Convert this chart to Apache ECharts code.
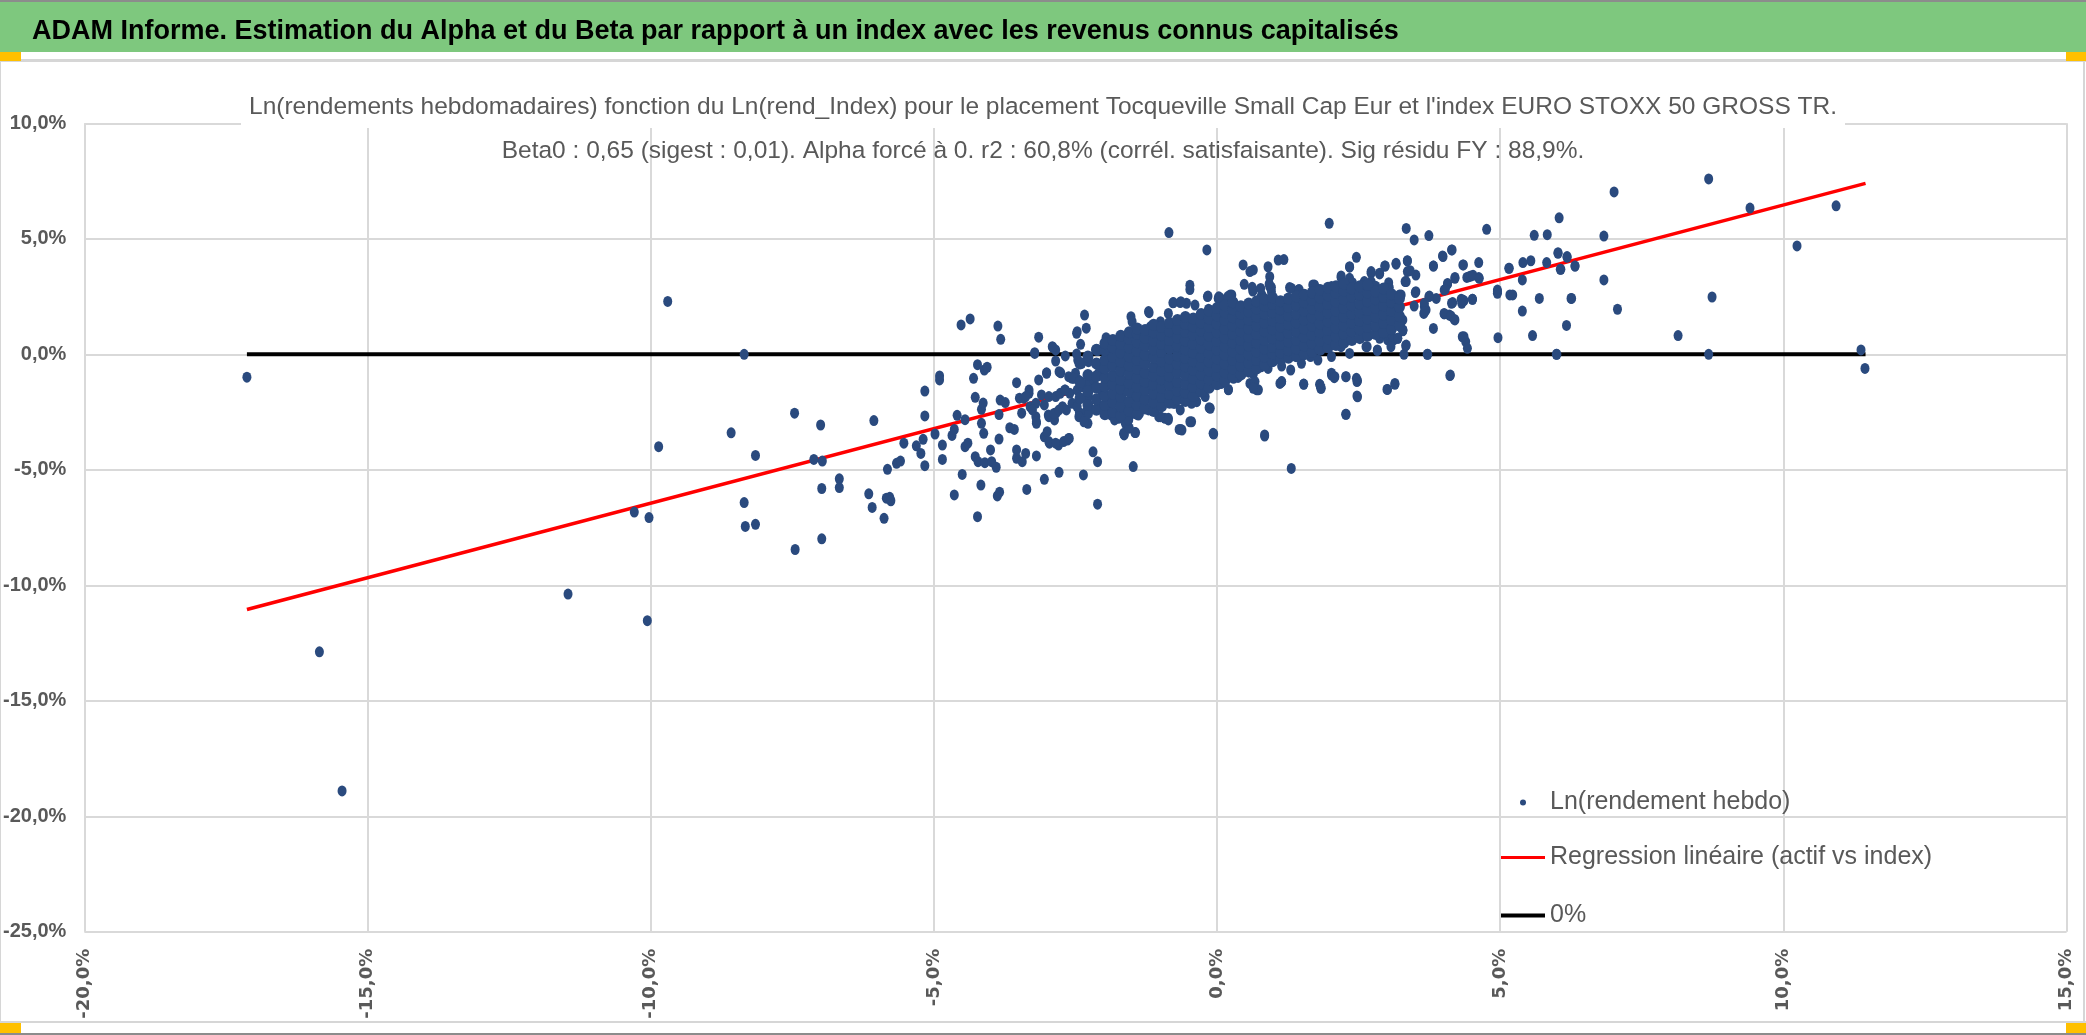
<!DOCTYPE html>
<html>
<head>
<meta charset="utf-8">
<script src="https://cdn.jsdelivr.net/npm/echarts@6/dist/echarts.min.js"></script>
<style>
  html, body { margin: 0; padding: 0; background: #fff; }
  #chart { width: 2086px; height: 1035px; }
</style>
</head>
<body>
<div id="chart"></div>
<script>
// texts
const bannerTitle = 'ADAM Informe. Estimation du Alpha et du Beta par rapport à un index avec les revenus connus capitalisés';
const titleLines = [
  "Ln(rendements hebdomadaires) fonction du Ln(rend_Index) pour le placement Tocqueville Small Cap Eur et l'index EURO STOXX 50 GROSS TR.",
  'Beta0 : 0,65 (sigest : 0,01). Alpha forcé à 0. r2 : 60,8% (corrél. satisfaisante). Sig résidu FY : 88,9%.'
];
const seriesNames = ['Ln(rendement hebdo)', 'Regression linéaire (actif vs index)', '0%'];

// axis ticks (in %)
const xTicks = { min: -20, max: 15, step: 5 };
const yTicks = { min: -25, max: 10, step: 5 };

// weekly log returns, index (x) vs fund (y), in %
const farLeft = [
  [-17.13,-0.99],[-15.85,-12.88],[-15.45,-18.9],[-11.46,-10.38],[-10.06,-11.53],[-10.29,-6.83],[-10.03,-7.07],
  [-9.86,-4.0],[-9.7,2.29],[-8.35,0.0],[-8.58,-3.4],[-8.15,-4.38],[-8.35,-6.42],[-8.33,-7.45],[-8.15,-7.36],
  [-7.46,-2.55],[-7.0,-3.06],[-7.12,-4.55],[-6.97,-4.62],[-6.67,-5.39],[-6.67,-5.77],[-6.98,-5.81],[-6.98,-7.99],
  [-7.45,-8.45],[-6.06,-2.87],[-6.15,-6.04],[-6.09,-6.63],[-5.88,-7.1],[-5.84,-6.23],[-5.78,-6.19],[-5.76,-6.34],
  [-5.82,-4.98],[-5.66,-4.72],[-5.59,-4.62]
];

const leftTail = [
  [-5.53,-3.85],[-5.31,-3.96],[-5.23,-4.29],[-5.19,-3.68],[-5.16,-4.82],[-5.16,-1.59],[-5.16,-2.67],[-4.98,-3.45],
  [-4.9,-0.94],[-4.9,-1.11],[-4.85,-3.93],[-4.85,-4.55],[-4.68,-3.51],[-4.64,-3.25],[-4.59,-2.64],[-4.64,-6.09],
  [-4.52,1.27],[-4.36,1.53],[-4.5,-5.2],[-4.45,-2.83],[-4.45,-4.0],[-4.4,-3.85],[-4.3,-1.04],[-4.27,-1.86],
  [-4.23,-0.45],[-4.16,-2.38],[-4.11,-0.68],[-4.06,-0.56],[-4.13,-2.11],[-4.27,-4.43],[-4.22,-4.65],[-4.16,-2.99],
  [-4.12,-3.42],[-4.23,-7.03],[-4.17,-5.66],[-4.1,-4.69],[-4.0,-4.14],[-3.98,-4.65],[-3.9,-4.89],[-3.88,-6.13],
  [-3.84,-5.97],[-3.87,1.22],[-3.82,0.65],[-3.85,-2.61],[-3.85,-3.67],[-3.83,-1.98],[-3.74,-2.09],[-3.66,-3.18],
  [-3.58,-3.25],[-3.54,-4.5],[-3.54,-4.14],[-3.54,-1.23],[-3.44,-4.65],[-3.38,-4.29],[-3.36,-5.85],[-3.49,-1.9],
  [-3.45,-2.55],[-3.41,-1.9],[-3.32,-1.69],[-3.3,-2.27],[-3.2,-2.7],[-3.19,-2.99],[-3.19,-4.4],[-3.22,0.07],
  [-3.15,0.74],[-3.15,-1.11],[-3.1,-1.76],[-3.05,-2.19],[-3.05,-3.57],[-3.05,-5.41],[-3.01,-0.8],[-3.0,-3.35],
  [-2.98,-2.63],[-2.96,-3.85],[-2.91,0.33],[-2.85,0.19],[-2.85,-0.29],[-2.87,-2.84],[-2.84,-2.53],[-2.8,-3.93],
  [-2.79,-5.11],[-2.76,-0.8],[-2.73,-2.27],[-2.66,-2.41],[-2.64,-3.71],[-2.61,-3.64],[-2.68,-1.55],[-2.6,-1.69],
  [-2.56,-1.04],[-2.48,0.91],[-2.41,0.43],[-2.34,1.7],[-2.31,1.13],[-2.46,-0.25],[-2.39,-0.39],[-2.27,-0.32],
  [-2.5,-0.82],[-2.45,-1.11],[-2.4,-1.33],[-2.43,-2.53],[-2.31,-2.48],[-2.33,-2.84],[-2.28,-2.99],[-2.36,-5.22],
  [-2.19,-4.22],[-2.11,-4.65],[-2.11,-6.49],[-2.11,0.16],[-1.96,0.72],[-2.0,-0.51],[-2.1,-2.27],[-2.05,-1.55],
  [-3.22,0.04],[-2.9,0.3],[-3.01,-0.82],[-3.32,-1.55],[-3.38,-1.83],[-3.2,-2.12],[-3.26,-2.41],[-3.19,-2.92],
  [-2.97,-3.78],[-2.85,-3.85],[-2.71,-3.78],[-2.62,-3.64],[-2.97,-2.7],[-2.88,-2.56],[-2.79,-2.41],[-2.97,-1.83],
  [-2.85,-1.83],[-2.77,-1.69],[-2.69,-1.55],[-2.79,-0.75],[-2.68,-0.07],[-2.62,-0.97],[-2.53,-1.04],[-2.48,0.01],
  [-2.47,0.98],[-2.47,-1.55],[-2.38,-1.4],[-2.27,-1.26],[-2.18,-1.11],[-2.56,-2.12],[-2.47,-2.27],[-2.44,-2.7],
  [-2.35,-2.92],[-2.27,-2.56],[-2.27,-1.83],[-2.1,0.19],[-2.03,-0.46],[-2.09,-0.82],[-2.0,-1.4],[-1.94,-1.83]
];

const clusterEdge = [
  [-1.91,-2.27],[-1.87,-2.63],[-1.83,-2.56],[-1.74,-2.77],[-1.68,-2.27],[-1.56,-2.84],[-1.5,-2.56],[-1.39,-2.63],
  [-1.62,-2.99],[-1.65,-3.42],[-1.44,-3.39],[-1.64,-3.49],[-1.45,-3.39],[-1.64,-3.46],[-1.48,-4.86],[-1.55,-3.2],
  [-1.68,0.69],[-1.71,0.33],[-1.67,0.62],[-1.52,1.63],[-1.5,1.41],[-1.39,0.84],[-1.38,0.91],[-1.21,1.85],
  [-1.2,1.8],[-1.18,1.19],[-1.15,1.01],[-1.33,0.18],[-1.21,-2.41],[-1.09,-2.41],[-1.03,-2.7],[-0.92,-2.77],
  [-0.86,-2.84],[-0.74,-2.12],[-0.65,-2.41],[-0.45,-2.92],[-0.62,-3.28],[-0.64,-3.25],[-0.36,-2.05],[-0.21,-1.83],
  [-0.12,-2.34],[-0.07,-3.42],[-0.45,-2.12],[-0.67,-3.25],[-0.48,-2.92],[-0.06,-3.45],[-0.14,-2.31],[-1.0,-2.7],
  [-1.37,-2.56],[-1.57,-2.84],[-1.81,-2.84],[-1.97,-2.56],[-0.86,-2.77],
  [-0.77,2.24],[-0.65,2.24],[-0.54,2.21],[-0.39,2.13],[-0.48,2.8],[-0.48,2.99],[-0.17,2.5],[-0.16,2.52],
  [0.02,2.42],[0.03,2.49],[0.14,2.35],[0.1,2.28],[0.26,2.57],[0.23,2.57],[-0.86,1.77],[-0.97,0.98],[-1.0,1.41],
  [-0.78,2.23],[-0.64,2.28],[-0.15,1.95],[0.05,2.45],[0.19,2.5],[-0.85,5.27],[-0.18,4.52],
  [0.46,3.87],[0.58,3.58],[0.9,3.79],[0.93,3.36],[0.48,3.03],[0.63,2.74],[0.79,2.57],[0.96,2.71],[1.08,4.08],
  [0.93,2.93],[0.64,3.65],[0.64,2.78],[0.96,2.9],[0.78,2.5],[1.18,4.1],[1.98,5.67],[0.62,2.9],[0.77,2.85],[0.92,3.05],
  [1.28,2.89],[1.43,2.78],[1.72,3.0],[2.02,2.86],[1.31,2.86],[1.69,3.0],[1.75,2.86],[2.02,2.93],[1.45,2.8],[2.2,3.0],
  [2.19,3.33],[2.34,3.77],[2.46,4.2],[2.34,3.29],[2.6,3.15],[2.72,3.51],[2.87,3.48],[2.97,3.82],[3.16,3.9],
  [3.36,4.04],[3.36,3.58],[3.51,3.43],[3.32,3.15],[3.04,2.9],[3.22,2.57],[3.51,2.71],[3.48,2.09],[3.66,2.06],
  [3.16,3.94],[2.96,3.82],[2.87,3.51],[2.72,3.58],[2.34,3.79],[2.19,3.39],[2.72,3.15],[3.03,3.1],[3.41,3.62],
  [3.34,3.15],[2.39,3.1],[2.66,3.0],[2.8,2.95],[3.0,2.85],
  [2.91,0.86],[3.01,0.62],[3.07,0.76],[3.28,1.02],[2.81,1.27],[3.01,1.34],[3.24,1.49],[2.84,0.98],[2.66,0.84],
  [3.19,0.69],[3.1,0.62],[3.07,0.91],[2.87,0.69],[3.28,1.05],[3.28,1.49],
  [2.34,0.04],[2.19,0.33],[2.02,-0.1],[1.78,-0.25],[1.65,-0.1],[1.49,-0.39],[1.3,-0.68],[1.14,-0.51],[0.96,-0.25],
  [0.78,-0.54],[0.64,-0.85],[0.58,-1.26],[0.42,-0.75],[0.29,-1.04],[0.02,-0.94],[-0.1,-1.33],[-0.27,-1.62],
  [-0.39,-1.83],[-0.56,-1.62],[-0.8,-1.98],[-0.77,-2.12],[-0.98,-1.83],[-1.15,-1.98],[-1.33,-1.62],[-1.5,-1.83],
  [-1.68,-1.98],[-1.86,-1.83],
  [0.2,-1.54],[0.67,-1.18],[0.7,-1.54],[0.84,-3.49],[1.11,-1.26],[0.61,-0.68],[0.9,-0.61],[0.37,-1.0],[0.08,-1.26],
  [0.73,-1.54],[0.64,-1.47],[0.2,-1.52],[1.14,-1.18],[1.53,-1.29],[1.81,-1.3],[1.83,-1.47],[1.53,-1.3],[1.82,-1.33],
  [1.84,-1.47],[0.84,-3.54],[1.31,-4.94],[2.02,-0.82],[2.08,-0.97],[2.28,-0.97],[2.47,-1.18],[2.47,-1.8],[2.28,-2.6],
  [2.27,-2.6],[2.48,-1.14],[2.48,-1.84],[2.27,-0.97],[2.02,-0.9],[2.07,-1.01],[2.46,-1.04],[1.14,-1.19],
  [2.83,0.16],[2.65,0.33],[2.63,0.33],[2.83,0.19],[3.14,-1.26],[3.0,-1.52],[3.01,-1.52],[3.14,-1.3]
];

// dense core of the cloud, one x per column and its y values
const coreX = [-2.42,-2.28,-2.13,-1.98,-1.84,-1.70,-1.55,-1.41,-1.27,-1.12,-0.98,-0.84,-0.70,-0.56,-0.42,-0.28,
  -0.14,0.00,0.14,0.28,0.42,0.56,0.70,0.84,0.98,1.12,1.26,1.40,1.54,1.68,1.82,1.96,2.10,2.24,2.38,2.52,2.66,2.80,
  2.94,3.08,3.22];
const coreY = [
  [-1.9,-1.2,-0.4],
  [-2.2,-1.6,-0.9,-0.1],
  [-2.4,-1.95,-1.45,-0.95,-0.4,0.2],
  [-2.6,-2.2,-1.8,-1.38,-1.02,-0.6,-0.25,0.18,0.48],
  [-2.5,-2.08,-1.7,-1.3,-0.92,-0.5,-0.12,0.3,0.62],
  [-2.65,-2.25,-1.85,-1.48,-1.1,-0.7,-0.32,0.08,0.45,0.8],
  [-2.45,-2.05,-1.62,-1.25,-0.85,-0.48,-0.1,0.28,0.66,0.95],
  [-2.58,-2.2,-1.8,-1.4,-1.02,-0.62,-0.25,0.15,0.52,0.88,1.12],
  [-2.35,-1.95,-1.55,-1.18,-0.8,-0.4,-0.02,0.38,0.72,1.05],
  [-2.45,-2.08,-1.7,-1.3,-0.92,-0.55,-0.15,0.22,0.6,0.95,1.28],
  [-2.25,-1.85,-1.45,-1.08,-0.7,-0.3,0.1,0.45,0.82,1.18],
  [-2.1,-1.72,-1.32,-0.95,-0.55,-0.18,0.25,0.62,1.0,1.35],
  [-1.95,-1.58,-1.2,-0.8,-0.42,-0.05,0.35,0.72,1.1,1.48],
  [-2.02,-1.65,-1.28,-0.9,-0.52,-0.15,0.22,0.6,0.98,1.32,1.62],
  [-1.8,-1.42,-1.05,-0.68,-0.3,0.08,0.45,0.85,1.2,1.55],
  [-1.62,-1.25,-0.88,-0.5,-0.12,0.28,0.65,1.02,1.38,1.75],
  [-1.45,-1.08,-0.7,-0.32,0.05,0.42,0.8,1.18,1.55,1.88],
  [-1.3,-0.92,-0.55,-0.18,0.2,0.58,0.95,1.32,1.68,2.0],
  [-1.15,-0.78,-0.4,-0.02,0.35,0.72,1.1,1.48,1.82,2.12],
  [-0.98,-0.62,-0.25,0.12,0.5,0.88,1.25,1.6,1.95,2.25],
  [-0.88,-0.5,-0.12,0.25,0.62,1.0,1.38,1.75,2.08],
  [-0.75,-0.38,0.0,0.38,0.75,1.12,1.5,1.85,2.2],
  [-0.62,-0.25,0.12,0.5,0.88,1.25,1.62,1.98,2.3],
  [-0.45,-0.1,0.25,0.62,1.0,1.38,1.75,2.1,2.38],
  [-0.3,0.02,0.32,0.7,1.08,1.45,1.82,2.18,2.45],
  [-0.22,0.08,0.45,0.82,1.2,1.58,1.95,2.3],
  [-0.15,0.18,0.55,0.92,1.3,1.68,2.05,2.42],
  [-0.08,0.25,0.62,1.0,1.38,1.75,2.12,2.5],
  [0.0,0.38,0.75,1.12,1.5,1.88,2.25,2.58],
  [0.1,0.48,0.85,1.22,1.6,1.98,2.35,2.68],
  [0.2,0.58,0.95,1.32,1.7,2.08,2.45,2.78],
  [0.3,0.68,1.05,1.42,1.8,2.18,2.55,2.88],
  [0.4,0.78,1.15,1.52,1.9,2.28,2.65,2.95],
  [0.5,0.88,1.25,1.62,2.0,2.38,2.75,3.05],
  [0.62,1.0,1.38,1.75,2.12,2.5,2.85],
  [0.7,1.08,1.45,1.82,2.2,2.58,2.95],
  [0.8,1.18,1.55,1.92,2.3,2.68,3.0],
  [0.88,1.25,1.62,2.0,2.38,2.72],
  [0.95,1.35,1.72,2.1,2.48,2.85],
  [1.1,1.5,1.88,2.25,2.6],
  [1.25,1.65,2.05,2.42]
];

const rightTail = [
  [3.34,5.45],[3.48,4.95],[3.74,5.14],[4.76,5.41],[5.83,5.18],[6.02,4.4],[6.18,4.23],[6.32,3.82],[6.07,3.68],
  [5.82,3.97],[5.54,4.05],[5.4,3.97],[5.16,3.72],[5.39,3.22],[5.22,2.57],[5.69,2.42],[6.25,2.42],[5.39,1.87],
  [6.17,1.25],[5.57,0.81],[4.95,2.78],[4.95,2.64],[4.96,0.72],[5.99,0.0],[4.62,3.97],[4.34,3.87],[4.62,3.32],
  [4.48,3.39],[4.41,3.33],[4.14,4.52],[3.99,4.23],[3.82,3.82],[4.2,3.29],[4.07,3.07],[4.01,2.78],[3.87,2.42],
  [3.74,2.5],[4.51,2.38],[4.34,2.35],[4.32,2.21],[4.14,2.21],[4.01,1.77],[4.1,1.7],[4.19,1.51],[3.65,1.77],
  [3.69,1.92],[3.82,1.12],[4.36,0.76],[4.39,0.55],[4.42,0.26],[4.11,-0.92],[3.71,0.0],[3.3,0.0],[3.33,0.37],
  [3.12,0.62],[3.07,0.33],[3.36,4.05],[3.82,3.82],[4.35,3.87],[4.45,3.36],[4.52,3.42],[4.63,3.29],[4.2,3.33],
  [4.07,3.04],[4.03,2.81],[3.5,2.67],[3.25,2.57],[3.75,2.52],[3.66,2.21],[3.67,1.85],[4.01,1.75],[4.13,1.66],
  [4.2,1.49],[4.16,2.24],[4.36,2.32],[4.31,2.38],[4.51,2.38],[4.95,2.71],[5.15,3.72],[5.17,2.57],[4.33,0.76],
  [4.12,-0.9],[3.72,0.0],[3.34,0.4],[3.19,0.69],[3.28,1.05],[4.15,4.52],[3.98,4.26]
];

const farRight = [
  [8.68,7.59],[7.01,7.03],[6.04,5.91],[6.83,5.12],[9.41,6.33],[10.93,6.43],[10.24,4.69],[6.02,4.37],[6.18,4.2],
  [6.06,3.68],[6.32,3.82],[6.83,3.22],[6.26,2.42],[7.07,1.95],[8.74,2.48],[8.14,0.81],[6.0,0.0],[8.68,0.0],
  [11.37,0.19],[11.44,-0.61],[5.6,5.15]
];

// regression line (beta 0.65, alpha 0) and zero line, from min to max of x
const regressionLine = [[-17.13,-11.05],[11.45,7.40]];
const zeroLine = [[-17.13,0],[11.45,0]];

const core = [];
coreX.forEach((x, i) => coreY[i].forEach(y => core.push([x, y])));
const scattered = [].concat(farLeft, leftTail, clusterEdge, rightTail, farRight);

const pct = v => v.toFixed(1).replace('.', ',') + '%';
const grey = '#595959';
const dotColor = '#2A4A7E';

const chart = echarts.init(document.getElementById('chart'), null, { renderer: 'canvas' });

const titleText = { color: grey, fontFamily: 'Liberation Sans', fontWeight: 'normal', fontSize: 24.5 };

const legendBase = {
  orient: 'horizontal',
  padding: 0,
  itemGap: 0,
  selectedMode: false,
  textStyle: { color: grey, fontFamily: 'Liberation Sans', fontSize: 25 }
};

chart.setOption({
  backgroundColor: '#fff',
  animation: false,
  title: [
    {
      text: titleLines[0], left: 'center', top: 89,
      padding: [6, 8, 8, 8], backgroundColor: '#fff',
      textStyle: titleText
    },
    {
      text: titleLines[1], left: 'center', top: 139,
      padding: 0,
      textStyle: titleText
    }
  ],
  legend: [
    Object.assign({}, legendBase, {
      left: 1520, top: 790, itemWidth: 44, itemHeight: 6,
      data: [{ name: seriesNames[0], icon: 'circle' }]
    }),
    Object.assign({}, legendBase, {
      left: 1501, top: 845, itemWidth: 44, itemHeight: 3,
      data: [{ name: seriesNames[1], icon: 'rect' }]
    }),
    Object.assign({}, legendBase, {
      left: 1501, top: 903, itemWidth: 44, itemHeight: 4,
      data: [{ name: seriesNames[2], icon: 'rect' }]
    })
  ],
  grid: { left: 79.4, right: 19.4, top: 123.3, bottom: 103.2, containLabel: false },
  xAxis: {
    type: 'value',
    min: xTicks.min, max: xTicks.max, interval: xTicks.step,
    axisLine: { show: false },
    axisTick: { show: false },
    splitLine: { show: true, lineStyle: { color: '#d9d9d9', width: 2 } },
    axisLabel: {
      rotate: 90, margin: 17, color: grey,
      fontFamily: 'DejaVu Sans', fontWeight: 'bold', fontSize: 18,
      formatter: pct
    }
  },
  yAxis: {
    type: 'value',
    min: yTicks.min, max: yTicks.max, interval: yTicks.step,
    axisLine: { show: false },
    axisTick: { show: false },
    splitLine: { show: true, lineStyle: { color: '#d9d9d9', width: 2 } },
    axisLabel: {
      margin: 18, color: grey,
      fontFamily: 'Liberation Sans', fontWeight: 'bold', fontSize: 20,
      formatter: pct
    }
  },
  series: [
    {
      name: seriesNames[1], type: 'line', data: regressionLine,
      symbol: 'none', z: 2,
      lineStyle: { color: '#ff0000', width: 3.5 }, itemStyle: { color: '#ff0000' }
    },
    {
      name: seriesNames[2], type: 'line', data: zeroLine,
      symbol: 'none', z: 2,
      lineStyle: { color: '#000000', width: 4 }, itemStyle: { color: '#000000' }
    },
    {
      name: seriesNames[0], type: 'scatter', data: scattered,
      symbol: 'circle', symbolSize: [9, 11], z: 3,
      itemStyle: { color: dotColor, opacity: 1 }
    },
    {
      name: seriesNames[0], type: 'scatter', data: core,
      symbol: 'circle', symbolSize: [11, 12], z: 3,
      itemStyle: { color: dotColor, opacity: 1 }
    }
  ],
  graphic: [
    { type: 'rect', z: -1, shape: { x: 0, y: 0, width: 2086, height: 52 }, style: { fill: '#7EC87E' } },
    { type: 'rect', z: 0, shape: { x: 0, y: 0, width: 2086, height: 2 }, style: { fill: '#8c8c8c' } },
    { type: 'text', z: 1, x: 32, y: 32,
      style: { text: bannerTitle, fill: '#000', font: 'bold 27px "Liberation Sans"', verticalAlign: 'middle' } },
    { type: 'rect', z: 0, shape: { x: 0, y: 59, width: 2086, height: 3 }, style: { fill: '#d6d6d6' } },
    { type: 'rect', z: 0, shape: { x: 0, y: 1021, width: 2086, height: 2 }, style: { fill: '#d6d6d6' } },
    { type: 'rect', z: 0, shape: { x: 0, y: 1033, width: 2086, height: 2 }, style: { fill: '#8c8c8c' } },
    { type: 'rect', z: 0, shape: { x: 2083, y: 60, width: 2, height: 962 }, style: { fill: '#d6d6d6' } },
    { type: 'rect', z: 0, shape: { x: 0, y: 60, width: 1, height: 962 }, style: { fill: '#d6d6d6' } },
    { type: 'rect', z: 1, shape: { x: 0, y: 52, width: 21, height: 9 }, style: { fill: '#FFC000' } },
    { type: 'rect', z: 1, shape: { x: 2066, y: 52, width: 20, height: 9 }, style: { fill: '#FFC000' } },
    { type: 'rect', z: 1, shape: { x: 0, y: 1023, width: 21, height: 10 }, style: { fill: '#FFC000' } },
    { type: 'rect', z: 1, shape: { x: 2066, y: 1023, width: 20, height: 10 }, style: { fill: '#FFC000' } }
  ]
});
</script>
</body>
</html>
